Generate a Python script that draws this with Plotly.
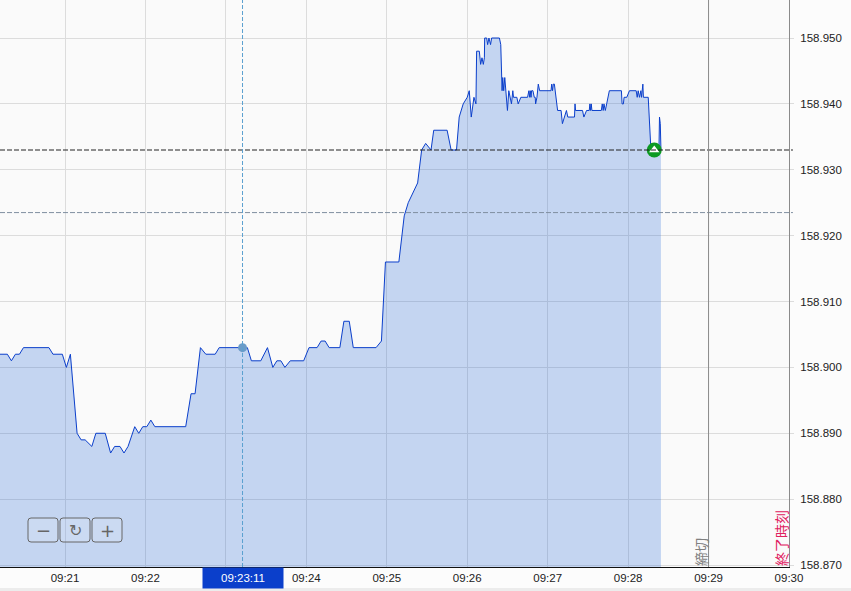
import plotly.graph_objects as go

DAY = "2024-01-15 "

times = [
    "09:20:11", "09:20:17", "09:20:20", "09:20:23", "09:20:26", "09:20:29", "09:20:48", "09:20:51", "09:20:58",
    "09:21:01", "09:21:04", "09:21:09", "09:21:12", "09:21:15", "09:21:20", "09:21:23", "09:21:30", "09:21:34",
    "09:21:37", "09:21:41", "09:21:44", "09:21:47", "09:21:52", "09:21:55", "09:21:58", "09:22:01", "09:22:04",
    "09:22:07", "09:22:30", "09:22:34", "09:22:37", "09:22:41", "09:22:45", "09:22:52", "09:22:55", "09:23:16",
    "09:23:19", "09:23:26", "09:23:31", "09:23:35", "09:23:38", "09:23:41", "09:23:44", "09:23:48", "09:23:58",
    "09:24:02", "09:24:08", "09:24:11", "09:24:14", "09:24:17", "09:24:25", "09:24:28", "09:24:32", "09:24:35",
    "09:24:52", "09:24:56", "09:24:59", "09:25:09", "09:25:13", "09:25:16", "09:25:23", "09:25:26", "09:25:29",
    "09:25:33", "09:25:35", "09:25:45", "09:25:48", "09:25:52", "09:25:54", "09:25:57", "09:26:00", "09:26:01.5",
    "09:26:03", "09:26:05", "09:26:06.5", "09:26:07", "09:26:09", "09:26:10", "09:26:11", "09:26:12", "09:26:12.8",
    "09:26:13", "09:26:14.5", "09:26:15.2", "09:26:16.2", "09:26:17.4", "09:26:18.2", "09:26:24", "09:26:25",
    "09:26:25.6", "09:26:26", "09:26:26.5", "09:26:27.2", "09:26:28", "09:26:30", "09:26:31", "09:26:33",
    "09:26:34", "09:26:34.5", "09:26:37", "09:26:38", "09:26:40", "09:26:45", "09:26:46", "09:26:46.6",
    "09:26:47", "09:26:47.6", "09:26:48", "09:26:49", "09:26:50", "09:26:50.7", "09:26:51", "09:26:52",
    "09:26:53", "09:26:54", "09:27:02.5", "09:27:03", "09:27:03.6", "09:27:04.2", "09:27:05", "09:27:06",
    "09:27:07", "09:27:07.4", "09:27:10", "09:27:11", "09:27:14", "09:27:15", "09:27:20", "09:27:20.4",
    "09:27:20.8", "09:27:26", "09:27:27", "09:27:29", "09:27:31", "09:27:31.5", "09:27:32", "09:27:32.5",
    "09:27:33", "09:27:40", "09:27:40.7", "09:27:41.4", "09:27:42", "09:27:43", "09:27:44", "09:27:46",
    "09:27:55", "09:27:55.5", "09:27:56.5", "09:27:57", "09:27:59", "09:28:01", "09:28:06", "09:28:06.8",
    "09:28:07.5", "09:28:08.5", "09:28:09.5", "09:28:10", "09:28:11", "09:28:11.4", "09:28:15", "09:28:16",
    "09:28:17", "09:28:23", "09:28:23.4", "09:28:24", "09:28:24.5",
]
prices = [
    158.902, 158.902, 158.901, 158.902, 158.902, 158.903, 158.903, 158.902, 158.902,
    158.900, 158.902, 158.890, 158.889, 158.889, 158.888, 158.890, 158.890, 158.887,
    158.888, 158.888, 158.887, 158.888, 158.891, 158.890, 158.891, 158.891, 158.892,
    158.891, 158.891, 158.896, 158.896, 158.903, 158.902, 158.902, 158.903, 158.903,
    158.901, 158.901, 158.903, 158.900, 158.901, 158.901, 158.900, 158.901, 158.901,
    158.903, 158.903, 158.904, 158.904, 158.903, 158.903, 158.907, 158.907, 158.903,
    158.903, 158.904, 158.916, 158.916, 158.923, 158.925, 158.928, 158.933, 158.934,
    158.933, 158.936, 158.936, 158.933, 158.933, 158.938, 158.940, 158.941, 158.942,
    158.938, 158.941, 158.940, 158.948, 158.948, 158.946, 158.947, 158.946, 158.947,
    158.950, 158.950, 158.949, 158.950, 158.949, 158.950, 158.950, 158.949,
    158.946, 158.942, 158.944, 158.942, 158.944, 158.939, 158.942, 158.940,
    158.942, 158.941, 158.941, 158.940, 158.941, 158.941, 158.942, 158.941,
    158.942, 158.941, 158.942, 158.942, 158.941, 158.941, 158.940, 158.941,
    158.943, 158.942, 158.942, 158.943, 158.942, 158.943, 158.943, 158.941,
    158.940, 158.939, 158.939, 158.937, 158.939, 158.938, 158.938, 158.940,
    158.939, 158.939, 158.938, 158.939, 158.939, 158.940, 158.939, 158.940,
    158.939, 158.939, 158.940, 158.939, 158.940, 158.939, 158.940, 158.942,
    158.942, 158.940, 158.940, 158.941, 158.941, 158.942, 158.942, 158.941,
    158.942, 158.941, 158.942, 158.941, 158.943, 158.941, 158.941, 158.937,
    158.933, 158.933, 158.938, 158.937, 158.933,
]
price_ticks = [158.87, 158.88, 158.89, 158.90, 158.91, 158.92, 158.93, 158.94, 158.95]
minute_ticks = ["09:21", "09:22", "09:23", "09:24", "09:25", "09:26", "09:27", "09:28", "09:29", "09:30"]
# 09:23 is covered by the cursor label
minute_labels = ["09:21", "09:22", "", "09:24", "09:25", "09:26", "09:27", "09:28", "09:29", "09:30"]

last_price = 158.933
other_level = 158.9235
cursor_time = "09:23:12.4"
cursor_price = 158.903
cursor_label = "09:23:11"
order_time = "09:28:19.5"
cutoff_time = "09:29:00"
end_time = "09:30:00"

BLUE = "#0b3fcb"
PLOT_W = 789
PLOT_H = 567


def px(x):
    return x / PLOT_W


def py(y):
    return 1 - y / PLOT_H


def stamp(t):
    return DAY + t


def round_rect(x0, y0, x1, y1, r=3):
    a, b, c, d = px(x0), py(y0), px(x1), py(y1)
    rx, ry = r / PLOT_W, r / PLOT_H
    return (f"M {a + rx} {b} L {c - rx} {b} Q {c} {b} {c} {b - ry} L {c} {d + ry} Q {c} {d} {c - rx} {d} "
            f"L {a + rx} {d} Q {a} {d} {a} {d + ry} L {a} {b - ry} Q {a} {b} {a + rx} {b} Z")


fig = go.Figure()
fig.add_trace(go.Scatter(
    x=[stamp(t) for t in times], y=prices, mode="lines",
    line=dict(color=BLUE, width=1),
    fill="tozeroy", fillcolor="rgba(25,95,215,0.24)", hoverinfo="skip",
))
fig.add_trace(go.Scatter(
    x=[stamp(cursor_time)], y=[cursor_price], mode="markers",
    marker=dict(color="#6a9bc8", size=9), hoverinfo="skip",
))
fig.add_trace(go.Scatter(
    x=[stamp(order_time)], y=[last_price], mode="markers",
    marker=dict(color="#0c9a22", size=15), hoverinfo="skip",
))
fig.add_trace(go.Scatter(
    x=[stamp(order_time)], y=[last_price], mode="markers",
    marker=dict(color="white", size=9, symbol="triangle-up"), hoverinfo="skip",
))

# price levels, cursor and session lines
fig.add_shape(type="line", xref="paper", x0=0, x1=1.005, y0=other_level, y1=other_level,
              line=dict(color="#7f8fa0", width=1, dash="5px,2px"))
fig.add_shape(type="line", xref="paper", x0=0, x1=1.005, y0=last_price, y1=last_price,
              line=dict(color="#222222", width=1, dash="5px,2px"))
fig.add_shape(type="line", yref="paper", y0=0, y1=1, x0=stamp(cursor_time), x1=stamp(cursor_time),
              line=dict(color="#5ba0d0", width=1, dash="4px,2px"))
fig.add_shape(type="line", yref="paper", y0=0, y1=1, x0=stamp(cutoff_time), x1=stamp(cutoff_time),
              line=dict(color="#8a8a8a", width=1))

# strip under the time axis
fig.add_shape(type="rect", xref="paper", yref="paper", x0=0, x1=851 / PLOT_W, y0=py(588), y1=py(591),
              fillcolor="#ececec", line=dict(width=0), layer="above")

# zoom buttons
for left in [28, 60, 92]:
    fig.add_shape(type="path", xref="paper", yref="paper", path=round_rect(left, 518, left + 30, 542),
                  line=dict(color="#666666", width=1), fillcolor="rgba(255,255,255,0.12)")
for left, label, size in [(28, "−", 18), (60, "↻", 16), (92, "+", 18)]:
    fig.add_annotation(xref="paper", yref="paper", x=px(left + 15), y=py(530), text=label, showarrow=False,
                       xanchor="center", yanchor="middle",
                       font=dict(size=size, color="#666666", family="DejaVu Sans"))

fig.add_annotation(x=stamp(cursor_time), xref="x", yref="paper", y=py(578), text=cursor_label, showarrow=False,
                   xanchor="center", yanchor="middle", width=80, height=20, bgcolor=BLUE, borderpad=0,
                   font=dict(size=11.5, color="white", family="Liberation Sans"))
fig.add_annotation(xref="paper", yref="paper", x=px(701), y=py(552), text="締切", textangle=-90, showarrow=False,
                   xanchor="center", yanchor="middle",
                   font=dict(size=14, color="#808080", family="Noto Sans CJK JP"))
fig.add_annotation(xref="paper", yref="paper", x=px(781), y=py(538), text="終了時刻", textangle=-90, showarrow=False,
                   xanchor="center", yanchor="middle",
                   font=dict(size=14, color="#e0205f", family="Noto Sans CJK JP"))

fig.update_layout(
    width=851, height=591,
    margin=dict(l=0, r=62, t=0, b=24),
    paper_bgcolor="#fcfcfc", plot_bgcolor="#fafafa",
    showlegend=False,
    font=dict(family="Liberation Sans", size=11.5, color="#222222"),
    xaxis=dict(
        type="date",
        range=[stamp("09:20:11.5"), stamp(end_time)],
        tickvals=[stamp(t) for t in minute_ticks], ticktext=minute_labels,
        showgrid=True, gridcolor="#dcdcdc", gridwidth=1, zeroline=False,
        showline=True, linecolor="#111111", linewidth=1, ticks="",
    ),
    yaxis=dict(
        side="right",
        range=[158.8697, 158.95577],
        tickvals=price_ticks, tickformat=".3f",
        showgrid=True, gridcolor="#dcdcdc", gridwidth=1, zeroline=False,
        showline=True, linecolor="#8a8a8a", linewidth=1,
        ticks="outside", ticklen=4, tickcolor="#dcdcdc", ticklabelstandoff=4,
    ),
)

# the page's default body margin would push the chart 8px in
fig.write_html("out.html", config=dict(displayModeBar=False),
               post_script="document.body.style.margin='0';document.body.style.overflow='hidden';")
